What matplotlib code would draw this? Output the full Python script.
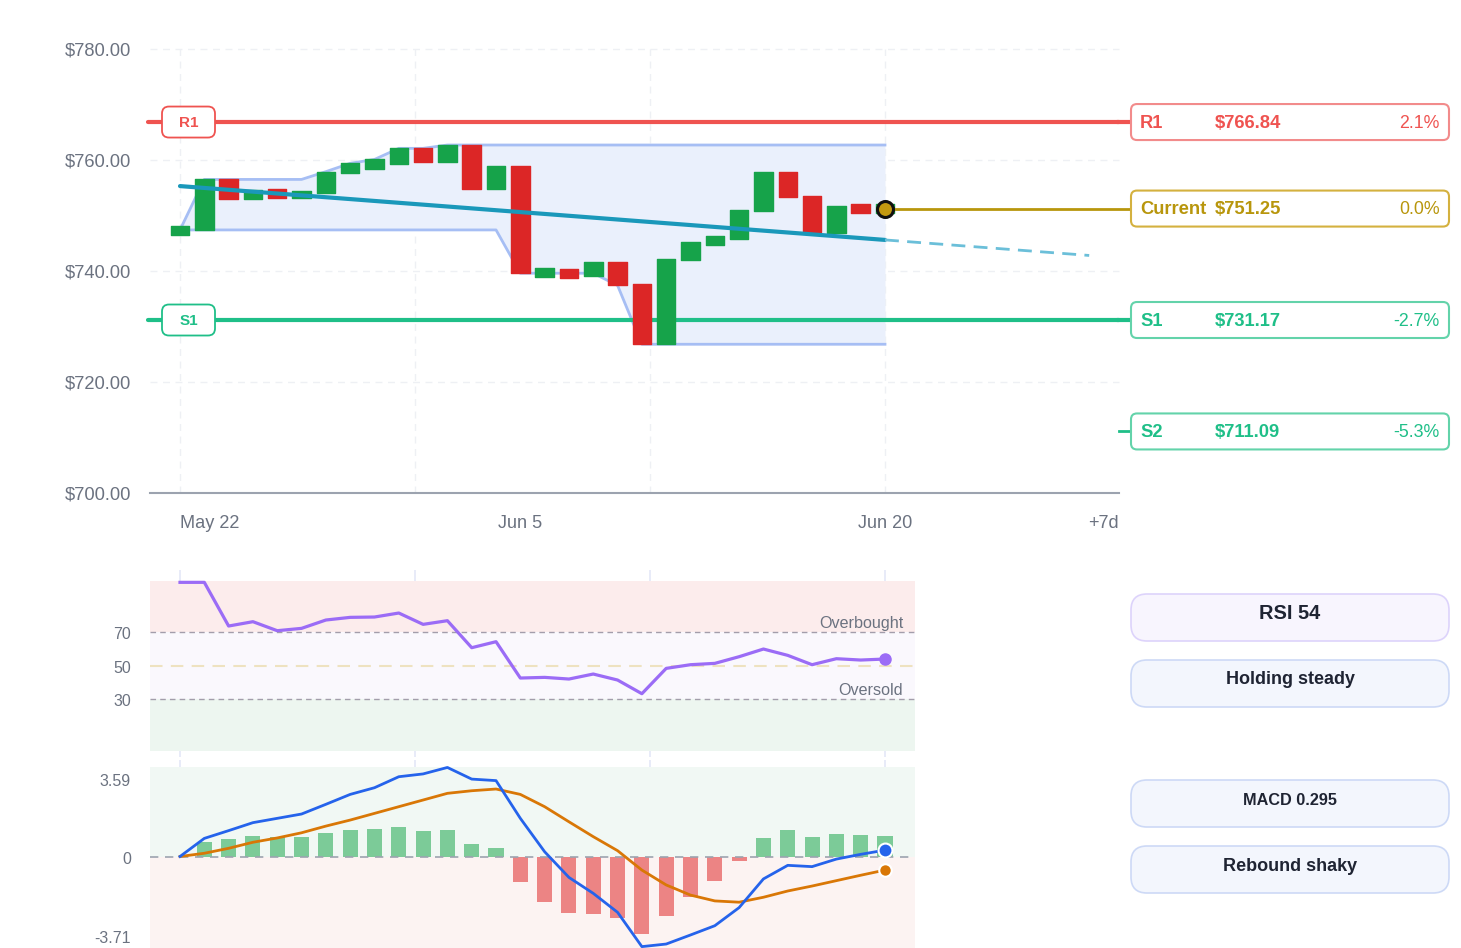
import matplotlib
matplotlib.use('Agg')
import matplotlib.pyplot as plt
from matplotlib.patches import FancyBboxPatch
from matplotlib.transforms import offset_copy

plt.rcParams['font.family'] = ['Liberation Sans', 'DejaVu Sans']

W, H = 1461, 948

# ---- price data (daily, May 22 .. Jun 20) ----
opens = [746.5, 747.3, 756.5, 753.0, 754.7, 753.2, 754.1, 757.7, 758.4, 759.3,
         762.1, 759.6, 762.7, 754.8, 758.9, 739.0, 740.3, 739.1, 741.7, 737.7,
         726.8, 741.9, 744.7, 745.7, 750.8, 757.8, 753.6, 746.9, 752.0, 750.4]
closes = [748.1, 756.5, 753.0, 754.6, 753.2, 754.5, 757.9, 759.4, 760.1, 762.1,
          759.6, 762.7, 754.8, 758.9, 739.6, 740.5, 738.7, 741.7, 737.4, 726.8,
          742.2, 745.2, 746.3, 751.0, 757.8, 753.3, 747.0, 751.8, 750.4, 752.0]
band_hi = [747.4, 756.5, 756.5, 756.5, 756.5, 756.5, 757.9, 759.4, 760.1, 762.1,
           762.1, 762.7, 762.7, 762.7, 762.7, 762.7, 762.7, 762.7, 762.7, 762.7,
           762.7, 762.7, 762.7, 762.7, 762.7, 762.7, 762.7, 762.7, 762.7, 762.7]
band_lo = [747.4, 747.4, 747.4, 747.4, 747.4, 747.4, 747.4, 747.4, 747.4, 747.4,
           747.4, 747.4, 747.4, 747.4, 739.6, 739.6, 739.6, 739.6, 737.4, 726.8,
           726.8, 726.8, 726.8, 726.8, 726.8, 726.8, 726.8, 726.8, 726.8, 726.8]
trend_x = [0, 29]
trend_y = [755.3, 745.6]
proj_x = [29, 37.4]
proj_y = [745.6, 742.8]
current = 751.25
levels = [('R1', 766.84), ('S1', 731.17), ('S2', 711.09)]
xtick_pos = [0, 14, 29]
xtick_lbl = ['May 22', 'Jun 5', 'Jun 20']

# ---- indicators ----
rsi = [100.0, 100.0, 73.8, 76.4, 71.0, 72.4, 77.4, 79.0, 79.2, 81.6,
       74.8, 77.0, 60.8, 64.4, 42.6, 43.0, 42.0, 45.0, 41.4, 33.2,
       48.4, 50.6, 51.4, 55.4, 60.0, 56.2, 50.6, 54.2, 53.4, 54.0]
macd = [0.0, 0.84, 1.20, 1.57, 1.77, 1.97, 2.42, 2.88, 3.19, 3.70,
        3.83, 4.13, 3.59, 3.52, 1.77, 0.22, -0.97, -1.71, -2.59, -4.18,
        -4.06, -3.64, -3.21, -2.37, -1.04, -0.41, -0.47, -0.12, 0.10, 0.295]
signal = [0.0, 0.15, 0.38, 0.66, 0.86, 1.10, 1.41, 1.69, 2.00, 2.31,
          2.62, 2.93, 3.05, 3.13, 2.88, 2.31, 1.61, 0.92, 0.27, -0.63,
          -1.32, -1.79, -2.06, -2.12, -1.89, -1.60, -1.37, -1.12, -0.87, -0.63]
hist = [0.69, 0.81, 0.95, 0.90, 0.89, 1.09, 1.23, 1.28, 1.38, 1.20,
        1.21, 0.56, 0.39, -1.17, -2.09, -2.64, -2.67, -2.84, -3.60, -2.76,
        -1.86, -1.14, -0.22, 0.86, 1.21, 0.90, 1.04, 1.00, 0.97]
hist_x = list(range(1, 30))
macd_ticks = [3.59, 0, -3.71]

RED = '#ef5350'
GREEN = '#1fbf88'
GOLD = '#b8960c'
GRAY = '#6b7280'
STEP = 24.31
X0 = 180


def frac(x0, y0, x1, y1):
    return [x0 / W, 1 - y1 / H, (x1 - x0) / W, (y1 - y0) / H]


def idx_of(px):
    return (px - X0) / STEP


x_lo, x_hi = idx_of(150), idx_of(1119)
panel_frac = (915 - 150) / (1119 - 150)
grid_x = [0, 29 / 3, 58 / 3, 29]

fig = plt.figure(figsize=(W / 100, H / 100), dpi=100)

# ---------- main price chart ----------
ax = fig.add_axes(frac(150, 49, 1119, 493))
ax.set_xlim(x_lo, x_hi)
ax.set_ylim(700, 780)
for gx in grid_x:
    ax.axvline(gx, color='#eef0f4', lw=1, dashes=(5, 4), zorder=0)
for gy in [720, 740, 760, 780]:
    ax.axhline(gy, color='#eef0f4', lw=1, dashes=(5, 4), zorder=0, clip_on=False)

idx = list(range(len(opens)))
ax.fill_between(idx, band_lo, band_hi, color='#eaf0fc', lw=0, zorder=1)
ax.plot(idx, band_hi, color='#a6bef4', lw=2, zorder=2)
ax.plot(idx, band_lo, color='#a6bef4', lw=2, zorder=2)

for i, (o, c) in enumerate(zip(opens, closes)):
    col = '#16a34a' if c >= o else '#dc2626'
    ax.bar(i, abs(c - o), bottom=min(o, c), width=0.76, color=col,
           edgecolor=col, lw=1, joinstyle='round', zorder=4)

ax.plot(trend_x, trend_y, color='#1a98ba', lw=3, zorder=5, solid_capstyle='round')
ax.plot(proj_x, proj_y, color='#6bbfd9', lw=2, dashes=(5, 3), zorder=5, clip_on=False)

ax.plot([x_lo - 0.08, x_hi], [levels[0][1]] * 2, color=RED, lw=3, zorder=3,
        solid_capstyle='round', clip_on=False)
ax.plot([x_lo - 0.08, x_hi], [levels[1][1]] * 2, color=GREEN, lw=3, zorder=3,
        solid_capstyle='round', clip_on=False)

for s in ['top', 'right', 'left']:
    ax.spines[s].set_visible(False)
ax.spines['bottom'].set_color('#9ca3af')
ax.spines['bottom'].set_linewidth(1.5)
ax.set_yticks([700, 720, 740, 760, 780])
ax.set_yticklabels(['${:.2f}'.format(v) for v in [700, 720, 740, 760, 780]])
ax.tick_params(axis='y', length=0, pad=13.5, labelsize=13.2, labelcolor=GRAY)
ax.set_xticks(xtick_pos + [x_hi])
ax.set_xticklabels(xtick_lbl + ['+7d'])
ax.tick_params(axis='x', length=0, pad=16, labelsize=13.1, labelcolor=GRAY)
tl = ax.get_xticklabels()
tl[0].set_ha('left')
tl[-1].set_ha('right')

# ---------- RSI panel ----------
def rsi_val(py):
    return 50 + (665.7 - py) / 1.667

axr = fig.add_axes(frac(150, 570, 1119, 757))
axr.set_xlim(x_lo, x_hi)
axr.set_ylim(rsi_val(757), rsi_val(570))
axr.axis('off')
for gx in grid_x:
    axr.axvline(gx, color='#e4e8f7', lw=1.2, zorder=0)
axr.axhspan(70, rsi_val(581), xmax=panel_frac, color='#fcecec', lw=0, zorder=1)
axr.axhspan(30, 70, xmax=panel_frac, color='#faf8fd', lw=0, zorder=1)
axr.axhspan(rsi_val(750.5), 30, xmax=panel_frac, color='#edf6f0', lw=0, zorder=1)
for lv in [70, 30]:
    axr.axhline(lv, xmax=panel_frac, color='#a39dab', lw=1, dashes=(4, 3), zorder=2)
axr.axhline(50, xmax=panel_frac, color='#eee2c0', lw=1.5, dashes=(6, 4), zorder=2)
axr.plot(idx, rsi, color='#9b6cf6', lw=2.3, zorder=4, solid_joinstyle='round')
axr.plot(idx[-1], rsi[-1], 'o', color='#9b6cf6', ms=8, zorder=5)
rtr = offset_copy(axr.transData, fig=fig, x=0, y=-2.5, units='dots')
axr.text(idx_of(903), rsi_val(621), 'Overbought', ha='right', va='center',
         fontsize=11.6, color=GRAY, transform=rtr)
axr.text(idx_of(903), rsi_val(688), 'Oversold', ha='right', va='center',
         fontsize=11.6, color=GRAY, transform=rtr)
for lv in [70, 50, 30]:
    axr.text(idx_of(131), lv, str(lv), ha='right', va='center', fontsize=11.5,
             color=GRAY, transform=rtr)

# ---------- MACD panel ----------
def macd_val(py):
    return (856.5 - py) / 21.56

axm = fig.add_axes(frac(150, 760, 1119, 948))
axm.set_xlim(x_lo, x_hi)
axm.set_ylim(macd_val(948), macd_val(760))
axm.axis('off')
for gx in grid_x:
    axm.axvline(gx, color='#e4e8f7', lw=1.2, zorder=0)
axm.axhspan(0, macd_val(767), xmax=panel_frac, color='#f1f8f4', lw=0, zorder=1)
axm.axhspan(macd_val(950), 0, xmax=panel_frac, color='#fcf3f2', lw=0, zorder=1)
axm.axhline(0, xmax=panel_frac, color='#9ca3af', lw=1.2, dashes=(5, 4), zorder=3)
axm.bar(hist_x, hist, width=0.62,
        color=['#7ccb98' if h >= 0 else '#ec8484' for h in hist], zorder=2)
axm.plot(idx, signal, color='#d97706', lw=2, zorder=4)
axm.plot(idx, macd, color='#2563eb', lw=2, zorder=5)
axm.plot(idx[-1], signal[-1], 'o', color='#d97706', mec='white', mew=1.5, ms=9, zorder=6)
axm.plot(idx[-1], macd[-1], 'o', color='#2563eb', mec='white', mew=1.5, ms=10, zorder=6)
mtr = offset_copy(axm.transData, fig=fig, x=0, y=-2.5, units='dots')
for v in macd_ticks:
    lbl = '0' if v == 0 else '{:.2f}'.format(v)
    axm.text(idx_of(131), v, lbl, ha='right', va='center', fontsize=11.5,
             color=GRAY, transform=mtr)

# ---------- overlay in pixel space ----------
ov = fig.add_axes([0, 0, 1, 1], zorder=10)
ov.set_xlim(0, W)
ov.set_ylim(H, 0)
ov.axis('off')
ov.patch.set_alpha(0)


def ypx(price):
    return H - ax.transData.transform((0, price))[1]


def xpx(i):
    return ax.transData.transform((i, 700))[0]


cur_y = ypx(current)
ov.plot([xpx(29), 1131], [cur_y, cur_y], color=GOLD, lw=2, zorder=1)
ov.plot(xpx(29), cur_y, 'o', color='#c49a10', mec='#111111', mew=2.2, ms=11.5, zorder=3)

box_rows = [('R1', levels[0][1], RED, '#f28b8b'),
            ('Current', current, GOLD, '#d4b13f'),
            ('S1', levels[1][1], GREEN, '#63d3aa'),
            ('S2', levels[2][1], GREEN, '#63d3aa')]
for name, lv, col, ec in box_rows:
    y = ypx(lv)
    if name != 'Current':
        ov.plot([1119, 1131], [y, y], color=col, lw=2 if name == 'S2' else 3, zorder=1)
    ov.add_patch(FancyBboxPatch((1131, y - 18), 318, 36,
                                boxstyle='round,pad=0,rounding_size=6',
                                fc='white', ec=ec, lw=1.5, zorder=2))
    pct = (lv / current - 1) * 100
    ov.text(1140, y + 1, name, ha='left', va='center', fontsize=13.2,
            fontweight='bold', color=col, zorder=3)
    ov.text(1215, y + 1, '${:.2f}'.format(lv), ha='left', va='center', fontsize=13.2,
            fontweight='bold', color=col, zorder=3)
    ov.text(1440, y + 1, '{:.1f}%'.format(pct), ha='right', va='center', fontsize=12.8,
            color=col, zorder=3)

for name, lv, col, ec in [('R1', levels[0][1], RED, '#f28b8b'),
                          ('S1', levels[1][1], GREEN, '#63d3aa')]:
    y = ypx(lv)
    ov.add_patch(FancyBboxPatch((162, y - 15.5), 53, 31,
                                boxstyle='round,pad=0,rounding_size=7',
                                fc='white', ec=col, lw=1.3, zorder=2))
    ov.text(188.5, y + 1, name, ha='center', va='center', fontsize=11,
            fontweight='bold', color=col, zorder=3)

side = [(594, 'RSI {:.0f}'.format(rsi[-1]), 14.4, '#f8f5fe', '#ddd3fb', 612),
        (660, 'Holding steady', 13.0, '#f3f6fd', '#cdd9f6', 678),
        (780, 'MACD {:.3f}'.format(macd[-1]), 11.7, '#f3f6fd', '#cdd9f6', 799),
        (846, 'Rebound shaky', 13.0, '#f3f6fd', '#cdd9f6', 865)]
for top, txt, fs, fc, ec, ty in side:
    ov.add_patch(FancyBboxPatch((1131, top), 318, 47,
                                boxstyle='round,pad=0,rounding_size=16',
                                fc=fc, ec=ec, lw=1.2, zorder=2))
    ov.text(1290, ty + 1.5, txt, ha='center', va='center', fontsize=fs,
            fontweight='bold', color='#1f2433', zorder=3)

fig.savefig('out.png', dpi=100)
